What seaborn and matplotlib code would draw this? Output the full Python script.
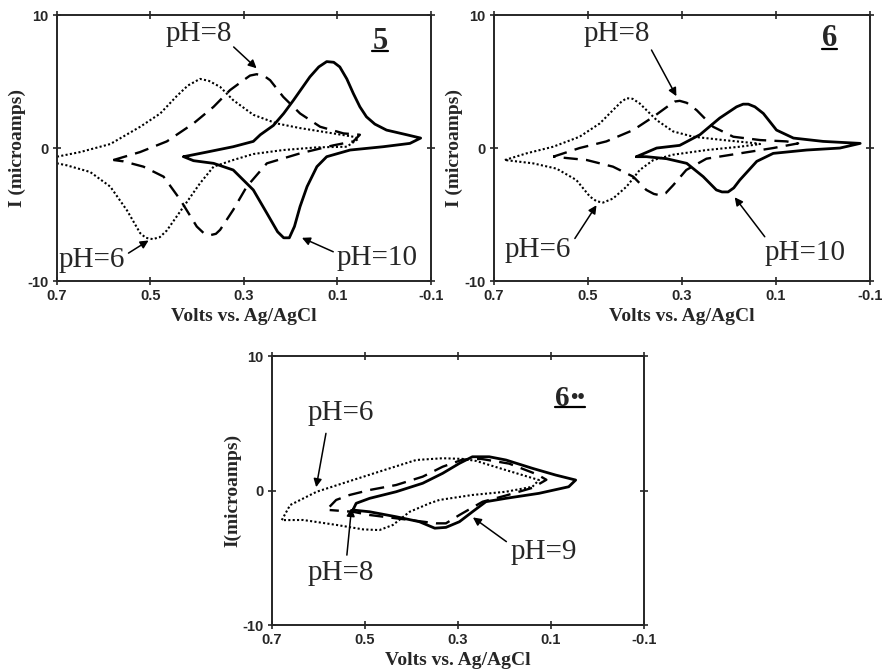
import numpy as np
import pandas as pd
import matplotlib
matplotlib.use("Agg")
import matplotlib.pyplot as plt
from matplotlib.lines import Line2D
from matplotlib.transforms import Bbox
import seaborn as sns

sns.set_style("ticks")
plt.rcParams['font.family'] = ['Liberation Serif', 'DejaVu Serif']

# ---- panel 5 ----
v5_ph6 = [0.70, 0.65, 0.586, 0.522, 0.479, 0.444, 0.42, 0.394, 0.375, 0.351, 0.323, 0.28, 0.23, 0.18,
          0.109, 0.066, 0.055, 0.08, 0.144, 0.216, 0.28, 0.323, 0.365, 0.394, 0.429, 0.465, 0.48,
          0.495, 0.51, 0.522, 0.55, 0.586, 0.629, 0.679, 0.70]
i5_ph6 = [-0.65, -0.3, 0.3, 1.6, 2.6, 3.9, 4.7, 5.2, 5.05, 4.6, 3.6, 2.5, 1.85, 1.5,
          1.1, 0.85, 0.7, 0.1, 0.05, -0.15, -0.45, -0.9, -1.4, -2.65, -4.4, -6.2, -6.7,
          -6.85, -6.75, -6.4, -4.7, -2.9, -1.8, -1.3, -1.15]
v5_ph8 = [0.579, 0.522, 0.465, 0.408, 0.365, 0.33, 0.301, 0.287, 0.273, 0.258, 0.244, 0.216, 0.18,
          0.137, 0.087, 0.052, 0.066, 0.109, 0.18, 0.251, 0.294, 0.323, 0.351, 0.36, 0.372, 0.386,
          0.401, 0.436, 0.472, 0.515, 0.558, 0.579]
i5_ph8 = [-0.9, -0.3, 0.5, 1.85, 3.1, 4.35, 5.1, 5.45, 5.55, 5.45, 5.1, 3.85, 2.6,
          1.6, 1.1, 1.0, 0.5, 0.2, -0.4, -1.15, -2.9, -4.65, -6.15, -6.45, -6.55, -6.4,
          -5.9, -3.9, -2.15, -1.4, -1.0, -0.9]
v5_ph10 = [0.429, 0.379, 0.323, 0.28, 0.265, 0.237, 0.215, 0.194, 0.176, 0.159, 0.14, 0.123, 0.108,
           0.095, 0.08, 0.066, 0.052, 0.038, 0.02, -0.005, -0.048, -0.078, -0.055, 0.002, 0.073,
           0.123, 0.144, 0.165, 0.18, 0.192, 0.203, 0.215, 0.228, 0.251, 0.28, 0.323, 0.365, 0.408,
           0.429]
i5_ph10 = [-0.65, -0.3, 0.1, 0.5, 1.0, 1.7, 2.6, 3.6, 4.5, 5.35, 6.1, 6.5, 6.45,
           6.1, 5.2, 4.1, 3.1, 2.35, 1.8, 1.35, 1.0, 0.75, 0.35, 0.1, -0.15,
           -0.65, -1.4, -2.9, -4.4, -5.9, -6.75, -6.75, -6.3, -4.9, -3.15, -1.65, -1.15, -0.95,
           -0.65]

# ---- panel 6 ----
v6_ph6 = [0.677, 0.631, 0.574, 0.518, 0.475, 0.447, 0.43, 0.418, 0.405, 0.39, 0.354, 0.319, 0.276,
          0.212, 0.141, 0.134, 0.177, 0.248, 0.319, 0.361, 0.39, 0.418, 0.447, 0.468, 0.482, 0.496,
          0.525, 0.567, 0.617, 0.677]
i6_ph6 = [-0.9, -0.4, 0.1, 0.85, 1.85, 2.85, 3.45, 3.75, 3.7, 3.35, 2.1, 1.25, 0.85,
          0.6, 0.35, 0.3, 0.1, -0.15, -0.5, -0.9, -1.65, -2.9, -3.8, -4.1, -4.0, -3.65,
          -2.4, -1.55, -1.15, -0.9]
v6_ph8 = [0.574, 0.518, 0.461, 0.404, 0.361, 0.326, 0.315, 0.305, 0.29, 0.269, 0.234, 0.191, 0.134,
          0.078, 0.053, 0.106, 0.177, 0.248, 0.291, 0.319, 0.335, 0.347, 0.36, 0.376, 0.404, 0.447,
          0.503, 0.56, 0.574]
i6_ph8 = [-0.65, 0.0, 0.5, 1.35, 2.35, 3.25, 3.5, 3.55, 3.4, 2.85, 1.6, 0.85, 0.6,
          0.5, 0.35, 0.0, -0.4, -0.8, -1.65, -2.8, -3.4, -3.55, -3.45, -3.15, -2.15, -1.4,
          -0.9, -0.7, -0.65]
v6_ph10 = [0.397, 0.354, 0.305, 0.262, 0.22, 0.184, 0.17, 0.159, 0.145, 0.127, 0.099, 0.063, 0.0,
           -0.079, -0.036, 0.035, 0.106, 0.141, 0.177, 0.19, 0.202, 0.215, 0.227, 0.255, 0.29, 0.333,
           0.376, 0.397]
i6_ph10 = [-0.65, 0.0, 0.2, 1.0, 2.25, 3.1, 3.3, 3.3, 3.1, 2.6, 1.35, 0.75, 0.5,
           0.35, 0.0, -0.15, -0.4, -1.0, -2.4, -3.0, -3.3, -3.3, -3.15, -2.15, -1.15, -0.8,
           -0.65, -0.65]

# ---- panel 6** ----
v6b_ph6 = [0.679, 0.661, 0.604, 0.526, 0.447, 0.39, 0.333, 0.29, 0.261, 0.197, 0.126, 0.14, 0.197,
           0.269, 0.34, 0.361, 0.404, 0.44, 0.469, 0.504, 0.561, 0.633, 0.679]
i6b_ph6 = [-2.2, -1.08, -0.09, 0.78, 1.65, 2.27, 2.4, 2.35, 2.2, 1.52, 0.78, 0.28, -0.09,
           -0.33, -0.7, -0.95, -1.58, -2.56, -2.94, -2.89, -2.56, -2.19, -2.2]
v6b_ph8 = [0.576, 0.562, 0.533, 0.49, 0.433, 0.376, 0.333, 0.29, 0.25, 0.19, 0.13, 0.11, 0.14,
           0.2, 0.247, 0.297, 0.326, 0.347, 0.404, 0.49, 0.526, 0.576]
i6b_ph8 = [-1.2, -0.7, -0.33, 0.04, 0.41, 1.03, 1.77, 2.3, 2.35, 2.0, 1.2, 0.8, 0.2,
           -0.4, -0.83, -1.82, -2.44, -2.44, -2.19, -1.82, -1.58, -1.45]
v6b_ph9 = [0.526, 0.519, 0.49, 0.433, 0.376, 0.333, 0.297, 0.269, 0.233, 0.197, 0.14, 0.09, 0.047,
           0.062, 0.126, 0.197, 0.24, 0.269, 0.297, 0.326, 0.35, 0.383, 0.433, 0.49, 0.526]
i6b_ph9 = [-1.45, -0.95, -0.58, -0.09, 0.54, 1.28, 2.02, 2.51, 2.51, 2.27, 1.65, 1.15, 0.78,
           0.28, -0.21, -0.58, -0.83, -1.58, -2.32, -2.74, -2.8, -2.32, -1.95, -1.58, -1.45]

x_ticks = [0.7, 0.5, 0.3, 0.1, -0.1]
x_labels = ["0.7", "0.5", "0.3", "0.1", "-0.1"]
y_ticks = [-10, 0, 10]
y_labels = ["-10", "0", "10"]

SOLID = dict(lw=2.0, linestyle='-')
DASH = dict(lw=1.7, linestyle=(0, (6, 3.5)))
DOT = dict(lw=1.5, linestyle=(0, (1, 1.1)))

fig = plt.figure(figsize=(8.86, 6.72), dpi=100)
ax1 = fig.add_axes([0.0643, 0.5818, 0.4221, 0.3958])
ax2 = fig.add_axes([0.5576, 0.5818, 0.4244, 0.3958])
ax3 = fig.add_axes([0.307, 0.0699, 0.4199, 0.4003])


def curve(ax, v, i, style):
    df = pd.DataFrame({'V': v, 'I': i})
    sns.lineplot(data=df, x='V', y='I', sort=False, estimator=None, color='black', ax=ax,
                 solid_joinstyle='round', dash_capstyle='butt', **style)


def setup(ax, ylab):
    ax.set_xlim(0.7, -0.1)
    ax.set_ylim(-10, 10)
    ax.set_xticks(x_ticks)
    ax.set_xticklabels(x_labels)
    ax.set_yticks(y_ticks)
    ax.set_yticklabels(y_labels)
    for lab in ax.get_xticklabels() + ax.get_yticklabels():
        lab.set_family('Liberation Sans')
        lab.set_weight('bold')
        lab.set_fontsize(10.5)
    ax.tick_params(direction='inout', length=6, width=1.2, top=True, right=True, pad=3)
    for s in ax.spines.values():
        s.set_linewidth(1.4)
        s.set_visible(True)
    ax.set_xlabel('Volts vs. Ag/AgCl', fontsize=14, fontweight='bold', labelpad=3)
    ax.set_ylabel(ylab, fontsize=14, fontweight='bold', labelpad=1)


def arrow(ax, tail, head):
    ax.annotate('', xy=head, xytext=tail,
                arrowprops=dict(arrowstyle='-|>', color='black', lw=1.1, mutation_scale=12,
                                shrinkA=0, shrinkB=0))


def label(ax, x, y, s, size=21, **kw):
    return ax.text(x, y, s, fontsize=size, ha='center', va='center', **kw)


underlined = []

# panel 5
curve(ax1, v5_ph6, i5_ph6, DOT)
curve(ax1, v5_ph8, i5_ph8, DASH)
curve(ax1, v5_ph10, i5_ph10, SOLID)
setup(ax1, 'I (microamps)')
label(ax1, 0.396, 8.6, 'pH=8')
arrow(ax1, (0.322, 7.6), (0.273, 6.0))
label(ax1, 0.625, -8.4, 'pH=6')
arrow(ax1, (0.547, -7.9), (0.504, -6.95))
label(ax1, 0.015, -8.3, 'pH=10')
arrow(ax1, (0.109, -7.8), (0.176, -6.75))
underlined.append([label(ax1, 0.009, 8.0, '5', size=22, fontweight='bold')])

# panel 6
curve(ax2, v6_ph6, i6_ph6, DOT)
curve(ax2, v6_ph8, i6_ph8, DASH)
curve(ax2, v6_ph10, i6_ph10, SOLID)
setup(ax2, 'I (microamps)')
label(ax2, 0.438, 8.6, 'pH=8')
arrow(ax2, (0.365, 7.37), (0.312, 3.9))
label(ax2, 0.608, -7.67, 'pH=6')
arrow(ax2, (0.528, -6.8), (0.482, -4.3))
label(ax2, 0.039, -7.9, 'pH=10')
arrow(ax2, (0.124, -6.67), (0.188, -3.7))
underlined.append([label(ax2, -0.013, 8.2, '6', size=22, fontweight='bold')])

# panel 6**
curve(ax3, v6b_ph6, i6b_ph6, DOT)
curve(ax3, v6b_ph8, i6b_ph8, DASH)
curve(ax3, v6b_ph9, i6b_ph9, SOLID)
setup(ax3, 'I(microamps)')
label(ax3, 0.552, 5.74, 'pH=6')
arrow(ax3, (0.584, 4.25), (0.605, 0.25))
label(ax3, 0.553, -6.16, 'pH=8')
arrow(ax3, (0.539, -4.8), (0.529, -1.3))
label(ax3, 0.116, -4.55, 'pH=9')
arrow(ax3, (0.196, -3.8), (0.268, -2.0))
six = label(ax3, 0.075, 6.85, '6', size=21, fontweight='bold')
dots = ax3.annotate('••', xy=(1.0, 0.52), xycoords=six, ha='left', va='center',
                    fontsize=15, fontweight='bold')
underlined.append([six, dots])

# underline the compound numbers
fig.canvas.draw()
r = fig.canvas.get_renderer()
inv = fig.transFigure.inverted()
for grp in underlined:
    bb = Bbox.union([t.get_window_extent(r) for t in grp])
    base = grp[0].get_window_extent(r)
    yline = base.y0 + 0.17 * base.height
    (x0, y0), (x1, _) = inv.transform([(bb.x0, yline), (bb.x1, yline)])
    fig.add_artist(Line2D([x0, x1], [y0, y0], color='black', lw=1.6, transform=fig.transFigure))

fig.savefig('out.png', dpi=100)
